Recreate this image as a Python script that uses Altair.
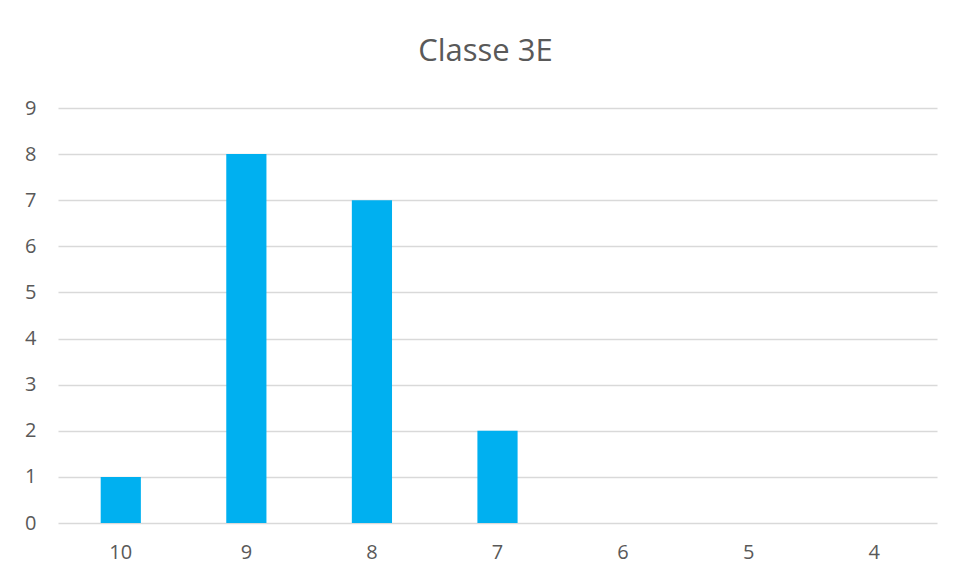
import altair as alt
import pandas as pd

categories = ["10", "9", "8", "7", "6", "5", "4"]
values = [1, 8, 7, 2, 0, 0, 0]

df = pd.DataFrame({"note": categories, "count": values})

font = "Open Sans"
tcol = "#595959"

chart = alt.Chart(df).mark_bar(color="#00B0F0").encode(
    x=alt.X("note:N", sort=categories,
            scale=alt.Scale(paddingInner=0.68, paddingOuter=0.34),
            axis=alt.Axis(title=None, labelAngle=0, domain=False, ticks=False,
                          labelPadding=19, labelFontSize=20, labelColor=tcol,
                          labelFont=font, grid=False)),
    y=alt.Y("count:Q", scale=alt.Scale(domain=[0, 9], nice=False),
            axis=alt.Axis(title=None, values=list(range(10)), domain=False, ticks=False,
                          labelPadding=22, labelFontSize=20, labelColor=tcol,
                          labelFont=font, gridColor="#d9d9d9", gridWidth=1.3)),
).properties(
    width=879, height=415,
    title=alt.TitleParams("Classe 3E", fontSize=31, font=font, color=tcol,
                          fontWeight="normal", offset=30, dx=-12),
    autosize=alt.AutoSizeParams(type="none"),
    padding={"left": 50, "top": 100, "right": 10, "bottom": 51},
).configure_view(stroke=None)

chart.save("out.html", embed_options={"renderer": "svg", "actions": False})
